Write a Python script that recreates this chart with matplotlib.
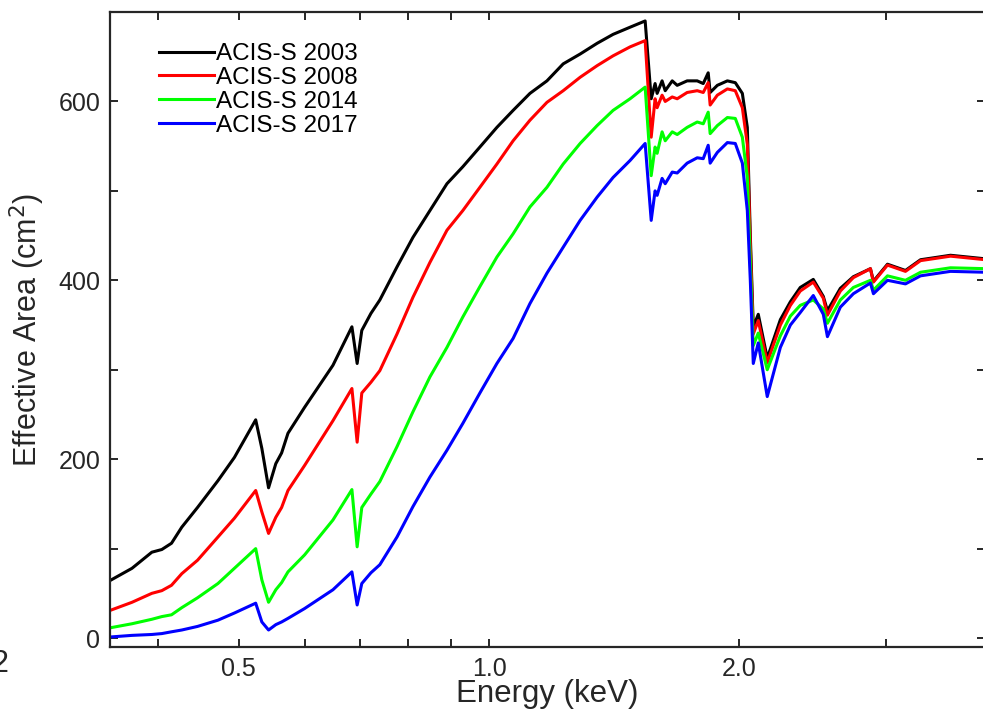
import matplotlib
import matplotlib.pyplot as plt
from matplotlib.ticker import FixedLocator, NullFormatter

matplotlib.use("Agg")

plt.rcParams["font.family"] = ["Liberation Sans", "DejaVu Sans"]

# Energy grid (keV), shared by all four responses
energy = [
    0.348, 0.372, 0.393, 0.404, 0.415, 0.427, 0.446, 0.472, 0.494, 0.524,
    0.533, 0.543, 0.554, 0.563, 0.573, 0.600, 0.649, 0.684, 0.694, 0.703,
    0.721, 0.739, 0.775, 0.810, 0.849, 0.890, 0.930, 0.975, 1.022, 1.069,
    1.120, 1.174, 1.228, 1.287, 1.349, 1.410, 1.478, 1.541, 1.567, 1.584,
    1.593, 1.615, 1.629, 1.661, 1.684, 1.731, 1.780, 1.810, 1.835, 1.845,
    1.882, 1.935, 1.978, 2.017, 2.045, 2.062, 2.079, 2.108, 2.161, 2.241,
    2.304, 2.368, 2.455, 2.524, 2.553, 2.646, 2.743, 2.876, 2.900, 3.015,
    3.169, 3.304, 3.590, 3.956,
]

# Effective area (cm^2)
area_2003 = [
    63, 78, 96, 99, 106, 124, 146, 176, 202, 244,
    212, 168, 195, 207, 229, 258, 305, 348, 307, 344,
    363, 378, 415, 448, 478, 508, 527, 549, 571, 590,
    609, 623, 642, 653, 665, 675, 683, 690, 603, 620,
    609, 623, 612, 623, 618, 623, 623, 620, 632, 610,
    618, 623, 621, 609, 571, 450, 348, 362, 313, 356,
    376, 392, 401, 382, 366, 391, 404, 413, 399, 418,
    411, 423, 428, 424,
]
area_2008 = [
    30, 40, 50, 53, 59, 72, 87, 113, 134, 165,
    141, 117, 135, 146, 165, 193, 243, 279, 219, 274,
    286, 299, 340, 381, 420, 456, 478, 504, 530, 556,
    579, 599, 612, 627, 640, 651, 661, 668, 560, 603,
    593, 607, 600, 605, 603, 610, 612, 610, 621, 596,
    607, 614, 612, 593, 552, 440, 340, 355, 308, 350,
    372, 388, 398, 380, 361, 388, 403, 413, 398, 417,
    410, 422, 427, 423,
]
area_2014 = [
    11, 16, 21, 24, 26, 34, 45, 61, 78, 100,
    65, 40, 54, 62, 74, 93, 132, 166, 102, 146,
    161, 175, 214, 253, 292, 325, 359, 393, 426, 452,
    482, 504, 530, 553, 573, 590, 603, 616, 517, 549,
    542, 566, 556, 566, 563, 571, 577, 575, 588, 564,
    573, 582, 581, 560, 515, 420, 327, 341, 300, 338,
    360, 372, 378, 368, 352, 378, 392, 400, 389, 405,
    400, 409, 414, 413,
]
area_2017 = [
    1, 3, 4, 5, 7, 9, 13, 20, 28, 39,
    18, 9, 15, 18, 22, 33, 54, 74, 37, 61,
    73, 82, 113, 147, 180, 210, 240, 274, 307, 335,
    374, 408, 437, 467, 493, 515, 534, 553, 467, 500,
    495, 514, 508, 521, 520, 531, 537, 536, 551, 531,
    543, 554, 553, 531, 478, 400, 307, 330, 270, 325,
    350, 364, 383, 362, 337, 370, 385, 397, 385, 400,
    396, 405, 410, 409,
]

series = [
    ("ACIS-S 2003", area_2003, "#000000"),
    ("ACIS-S 2008", area_2008, "#ff0000"),
    ("ACIS-S 2014", area_2014, "#00ff00"),
    ("ACIS-S 2017", area_2017, "#0000ff"),
]

fig = plt.figure(figsize=(9.83, 7.14), dpi=100)
ax = fig.add_axes([110 / 983, 67 / 714, 875 / 983, 635 / 714])

for label, vals, color in series:
    ax.plot(energy, vals, color=color, lw=2.2, label=label)

ax.set_xscale("log")
ax.set_xlim(0.35, 3.95)
ax.set_ylim(-10, 700)

ax.xaxis.set_major_locator(FixedLocator([0.5, 1.0, 2.0]))
ax.set_xticklabels(["0.5", "1.0", "2.0"])
ax.xaxis.set_minor_locator(FixedLocator([0.4, 0.6, 0.7, 0.8, 0.9, 3.0]))
ax.xaxis.set_minor_formatter(NullFormatter())
ax.yaxis.set_major_locator(FixedLocator([0, 200, 400, 600]))
ax.yaxis.set_minor_locator(FixedLocator([100, 300, 500, 700]))

spine_c = "#262626"
for s in ax.spines.values():
    s.set_color(spine_c)
    s.set_linewidth(1.6)
ax.tick_params(which="both", direction="in", top=True, right=True,
               length=6, width=1.4, color=spine_c, labelsize=18,
               labelcolor=spine_c, pad=7)

ax.set_xlabel("Energy (keV)", fontsize=22.5, color=spine_c)
ax.set_ylabel("Effective Area (cm$^2$)", fontsize=22, color=spine_c)
ax.xaxis.set_label_coords(0.5, -0.05)
ax.yaxis.set_label_coords(-0.072, 0.5)

ax.legend(loc="upper left", bbox_to_anchor=(159 / 983, 1 - 43 / 714),
          bbox_transform=fig.transFigure, frameon=False, fontsize=17.5,
          handlelength=2.25, handletextpad=0.1, labelspacing=0.08,
          borderpad=0, borderaxespad=0)

# edge of a neighbouring panel label, cut off by the crop
fig.text(0.0, 1 - 664 / 714, "2", fontsize=22, ha="center", va="center",
         color=spine_c)

fig.savefig("out.png", dpi=100)
